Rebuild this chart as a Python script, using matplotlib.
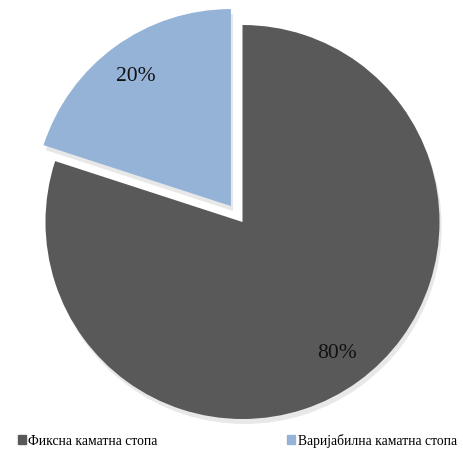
import matplotlib
matplotlib.use("Agg")
import matplotlib.pyplot as plt
from matplotlib.patches import Patch

categories = ["Фиксна каматна стопа", "Варијабилна каматна стопа"]
values = [80, 20]
colors = ["#595959", "#95B3D7"]
explode = [0, 0.1]

plt.rcParams['font.family'] = ['Liberation Serif', 'DejaVu Serif']

W, H = 464, 452
fig = plt.figure(figsize=(W / 100, H / 100), dpi=100)
cx, cy, r = 242.5, 452 - 223, 197
ax = fig.add_axes([(cx - r) / W, (cy - r) / H, 2 * r / W, 2 * r / H])

wedges, texts, autotexts = ax.pie(
    values, colors=colors, explode=explode, startangle=90, counterclock=False,
    autopct=lambda p: f"{p:.0f}%", pctdistance=0.82,
    textprops=dict(fontsize=15.5, color="#111111"),
    wedgeprops=dict(linewidth=0),
    shadow=dict(ox=0.008, oy=-0.018, shade=0.0, alpha=0.18, color="#808080"))
for p in ax.patches:
    p.set_clip_on(False)
ax.set_xlim(-1, 1)
ax.set_ylim(-1, 1)
ax.set_aspect('equal')
ax.axis('off')

fig.legend(handles=[Patch(color=colors[0]), Patch(color=colors[1])], labels=categories,
           loc='center', bbox_to_anchor=(0.5115, 11 / H), ncol=2, frameon=False,
           fontsize=9.8, handlelength=0.6, handleheight=0.6, handletextpad=0.2,
           columnspacing=9.5)

fig.savefig("out.png", dpi=100)
